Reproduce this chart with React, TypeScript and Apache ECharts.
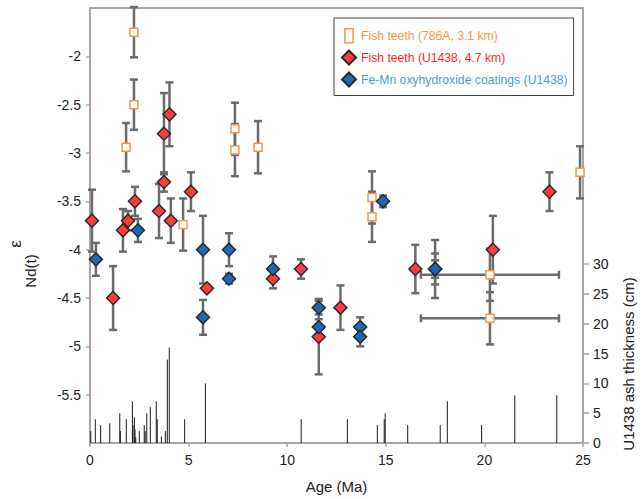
import React, { useEffect, useRef } from "react";
import * as echarts from "echarts";

// ---- Data ----
// Fish teeth (786A, 3.1 km): [age Ma, eNd, yErr]
const teeth786A: number[][] = [
  [2.23, -1.75, 0.26],
  [2.23, -2.5, 0.26],
  [1.83, -2.94, 0.25],
  [4.72, -3.74, 0.27],
  [7.35, -2.75, 0.27],
  [7.35, -2.97, 0.27],
  [8.52, -2.94, 0.27],
  [14.3, -3.46, 0.27],
  [14.3, -3.66, 0.26],
  [24.85, -3.2, 0.27],
  [20.28, -4.26, 0.27],
  [20.28, -4.71, 0.27],
];
// horizontal age errors for 786A points: [age, eNd, xErr]
const teeth786AxErr: number[][] = [
  [20.28, -4.26, 3.5],
  [20.28, -4.71, 3.5],
];
// Fish teeth (U1438, 4.7 km)
const teethU1438: number[][] = [
  [0.1, -3.7, 0.32],
  [1.17, -4.5, 0.33],
  [1.67, -3.8, 0.22],
  [1.93, -3.7, 0.1],
  [2.28, -3.5, 0.15],
  [3.5, -3.6, 0.28],
  [3.75, -2.8, 0.42],
  [3.75, -3.3, 0.1],
  [4.03, -2.6, 0.33],
  [4.1, -3.7, 0.23],
  [5.12, -3.4, 0.2],
  [5.93, -4.4, 0.03],
  [9.28, -4.3, 0.1],
  [10.7, -4.2, 0.1],
  [11.6, -4.9, 0.39],
  [12.7, -4.6, 0.23],
  [16.5, -4.2, 0.25],
  [20.43, -4.0, 0.35],
  [23.3, -3.4, 0.2],
];
// Fe-Mn oxyhydroxide coatings (U1438)
const feMnU1438: number[][] = [
  [0.3, -4.1, 0.17],
  [2.43, -3.8, 0.12],
  [5.73, -4.0, 0.35],
  [5.73, -4.7, 0.18],
  [7.05, -4.0, 0.17],
  [7.05, -4.3, 0.05],
  [9.28, -4.2, 0.13],
  [11.6, -4.6, 0.07],
  [11.6, -4.8, 0.08],
  [13.7, -4.8, 0.1],
  [13.7, -4.9, 0.1],
  [14.86, -3.5, 0.06],
  [17.5, -4.2, 0.3],
  [17.5, -4.2, 0.16],
  [17.5, -4.2, 0.09],
];
// U1438 ash layers: age (Ma) and thickness (cm)
const ashAge: number[] = [
  0.04, 0.27, 0.54, 1.0, 1.51, 1.54, 1.84, 2.15, 2.18, 2.25, 2.28, 2.32, 2.5,
  2.75, 2.8, 2.88, 3.06, 3.36, 3.41, 3.62, 3.82, 3.92, 4.02, 4.8, 5.85, 10.71,
  13.05, 14.57, 14.92, 14.97, 16.11, 17.76, 18.12, 19.86, 21.54, 23.67,
];
const ashThickness: number[] = [
  2, 4, 3, 3.3, 5, 2, 4, 7, 3, 4.3, 2.3, 1, 2, 3, 2, 5, 6, 7, 4, 1.1, 2, 14, 16,
  4, 10, 4, 4, 3, 4, 5, 3, 3, 7, 3, 8, 8,
];
const leftTicks: number[] = [-5.5, -5, -4.5, -4, -3.5, -3, -2.5, -2];
const rightTicks: number[] = [0, 5, 10, 15, 20, 25, 30];
const xTicks: number[] = [0, 5, 10, 15, 20, 25];

const FONT = "'Liberation Sans', Arial, sans-serif";
const ERR_COLOR = "#6b6b6b";
const ORANGE = "#f79646";
const RED_FILL = "#ff3c3c";
const BLUE_FILL = "#1a68b8";
const EDGE = "#2a2a2a";
const AXIS_GRAY = "#a6a6a6";

const vErrRender = (params: any, api: any) => {
  const x = api.value(0);
  const y = api.value(1);
  const e = api.value(2);
  const top = api.coord([x, y + e]);
  const bot = api.coord([x, y - e]);
  const hw = 4;
  const style = { stroke: ERR_COLOR, lineWidth: 2.5 };
  return {
    type: "group",
    children: [
      { type: "line", shape: { x1: top[0], y1: top[1], x2: bot[0], y2: bot[1] }, style },
      { type: "line", shape: { x1: top[0] - hw, y1: top[1], x2: top[0] + hw, y2: top[1] }, style },
      { type: "line", shape: { x1: bot[0] - hw, y1: bot[1], x2: bot[0] + hw, y2: bot[1] }, style },
    ],
  };
};

const hErrRender = (params: any, api: any) => {
  const x = api.value(0);
  const y = api.value(1);
  const e = api.value(2);
  const l = api.coord([x - e, y]);
  const r = api.coord([x + e, y]);
  const hh = 4;
  const style = { stroke: ERR_COLOR, lineWidth: 2.5 };
  return {
    type: "group",
    children: [
      { type: "line", shape: { x1: l[0], y1: l[1], x2: r[0], y2: r[1] }, style },
      { type: "line", shape: { x1: l[0], y1: l[1] - hh, x2: l[0], y2: l[1] + hh }, style },
      { type: "line", shape: { x1: r[0], y1: r[1] - hh, x2: r[0], y2: r[1] + hh }, style },
    ],
  };
};

const ashRender = (params: any, api: any) => {
  const x = api.value(0);
  const h = api.value(1);
  const p0 = api.coord([x, 0]);
  const p1 = api.coord([x, h]);
  return {
    type: "line",
    shape: { x1: p0[0], y1: p0[1], x2: p1[0], y2: p1[1] },
    style: { stroke: "#1a1a1a", lineWidth: 1 },
  };
};

export default function App() {
  const ref = useRef<HTMLDivElement>(null);

  useEffect(() => {
    if (!ref.current) return;
    const chart = echarts.init(ref.current, undefined, { renderer: "svg" });
    const ashData = ashAge.map((a, i) => [a, ashThickness[i]]);

    const option: any = {
      animation: false,
      backgroundColor: "#ffffff",
      textStyle: { fontFamily: FONT },
      grid: {
        left: 90,
        right: 61,
        top: 8,
        bottom: 55,
        show: true,
        borderColor: AXIS_GRAY,
        borderWidth: 2,
        backgroundColor: "transparent",
      },
      legend: {
        orient: "vertical",
        left: 334,
        top: 18,
        padding: [10, 6, 8, 7],
        itemWidth: 14,
        itemHeight: 14,
        itemGap: 6,
        borderColor: "#404040",
        borderWidth: 1,
        backgroundColor: "#ffffff",
        textStyle: { fontFamily: FONT, fontSize: 12.2 },
        data: [
          {
            name: "Fish teeth (786A, 3.1 km)",
            icon: "path://M0 0H7V12H0Z",
            itemStyle: { color: "#ffffff", borderColor: ORANGE, borderWidth: 1.5 },
            textStyle: { color: ORANGE },
          },
          {
            name: "Fish teeth (U1438, 4.7 km)",
            icon: "diamond",
            textStyle: { color: "#ff1f1f" },
          },
          {
            name: "Fe-Mn oxyhydroxide coatings (U1438)",
            icon: "diamond",
            textStyle: { color: "#4c9bd6" },
          },
        ],
      },
      xAxis: {
        type: "value",
        min: 0,
        max: 25,
        interval: 5,
        name: "Age (Ma)",
        nameLocation: "middle",
        nameGap: 36,
        nameTextStyle: { fontSize: 15, color: "#222", fontFamily: FONT },
        axisLine: { show: true, lineStyle: { color: AXIS_GRAY, width: 2 } },
        axisTick: { show: true, length: 4, lineStyle: { color: AXIS_GRAY, width: 1.5 } },
        axisLabel: {
          color: "#222",
          fontSize: 14,
          margin: 10,
          fontFamily: FONT,
          customValues: xTicks,
        },
        splitLine: { show: false },
      },
      yAxis: [
        {
          type: "value",
          min: -6,
          max: -1.5,
          interval: 0.5,
          position: "left",
          axisLine: { show: true, onZero: false, lineStyle: { color: AXIS_GRAY, width: 2 } },
          axisTick: {
            show: true,
            length: 4,
            lineStyle: { color: AXIS_GRAY, width: 1.5 },
            customValues: leftTicks,
          },
          axisLabel: {
            color: "#222",
            fontSize: 14,
            margin: 9,
            fontFamily: FONT,
            customValues: leftTicks,
            formatter: (v: number) => (v < -5.75 || v > -1.75 ? "" : String(v)),
          },
          splitLine: { show: false },
        },
        {
          type: "value",
          min: 0,
          max: 73,
          position: "right",
          axisLine: { show: true, onZero: false, lineStyle: { color: AXIS_GRAY, width: 2 } },
          axisTick: {
            show: true,
            length: 6,
            lineStyle: { color: AXIS_GRAY, width: 1.5 },
            customValues: rightTicks,
          },
          axisLabel: {
            color: "#222",
            fontSize: 14,
            margin: 10,
            fontFamily: FONT,
            customValues: rightTicks,
          },
          splitLine: { show: false },
        },
      ],
      graphic: [
        {
          type: "text",
          x: 15,
          y: 244,
          rotation: Math.PI / 2,
          style: {
            text: "ε",
            font: `17px ${FONT}`,
            fill: "#222",
            textAlign: "center",
            textVerticalAlign: "middle",
          },
        },
        {
          type: "text",
          x: 30,
          y: 271,
          rotation: Math.PI / 2,
          style: {
            text: "Nd(t)",
            font: `15px ${FONT}`,
            fill: "#222",
            textAlign: "center",
            textVerticalAlign: "middle",
          },
        },
        {
          type: "text",
          x: 628,
          y: 364,
          rotation: Math.PI / 2,
          style: {
            text: "U1438 ash thickness (cm)",
            font: `15px ${FONT}`,
            fill: "#222",
            textAlign: "center",
            textVerticalAlign: "middle",
          },
        },
      ],
      series: [
        {
          name: "ash",
          type: "custom",
          yAxisIndex: 1,
          renderItem: ashRender,
          encode: { x: 0, y: 1 },
          data: ashData,
          z: 1,
          silent: true,
        },
        {
          name: "err786A",
          type: "custom",
          renderItem: vErrRender,
          encode: { x: 0, y: 1 },
          data: teeth786A,
          z: 2,
          silent: true,
        },
        {
          name: "errx786A",
          type: "custom",
          renderItem: hErrRender,
          encode: { x: 0, y: 1 },
          data: teeth786AxErr,
          z: 2,
          silent: true,
        },
        {
          name: "errU1438",
          type: "custom",
          renderItem: vErrRender,
          encode: { x: 0, y: 1 },
          data: teethU1438,
          z: 2,
          silent: true,
        },
        {
          name: "errFeMn",
          type: "custom",
          renderItem: vErrRender,
          encode: { x: 0, y: 1 },
          data: feMnU1438,
          z: 2,
          silent: true,
        },
        {
          name: "Fish teeth (786A, 3.1 km)",
          type: "scatter",
          symbol: "rect",
          symbolSize: 8,
          data: teeth786A.map((d) => [d[0], d[1]]),
          itemStyle: { color: "#ffffff", borderColor: ORANGE, borderWidth: 1.5, opacity: 1 },
          z: 3,
        },
        {
          name: "Fish teeth (U1438, 4.7 km)",
          type: "scatter",
          symbol: "diamond",
          symbolSize: 13,
          data: teethU1438.map((d) => [d[0], d[1]]),
          itemStyle: { color: RED_FILL, borderColor: EDGE, borderWidth: 1.5, opacity: 1 },
          z: 4,
        },
        {
          name: "Fe-Mn oxyhydroxide coatings (U1438)",
          type: "scatter",
          symbol: "diamond",
          symbolSize: 13,
          data: feMnU1438.map((d) => [d[0], d[1]]),
          itemStyle: { color: BLUE_FILL, borderColor: EDGE, borderWidth: 1.5, opacity: 1 },
          z: 5,
        },
      ],
    };

    chart.setOption(option);
    return () => chart.dispose();
  }, []);

  return <div ref={ref} style={{ width: 644, height: 499, position: "absolute", left: 0, top: 0 }} />;
}
